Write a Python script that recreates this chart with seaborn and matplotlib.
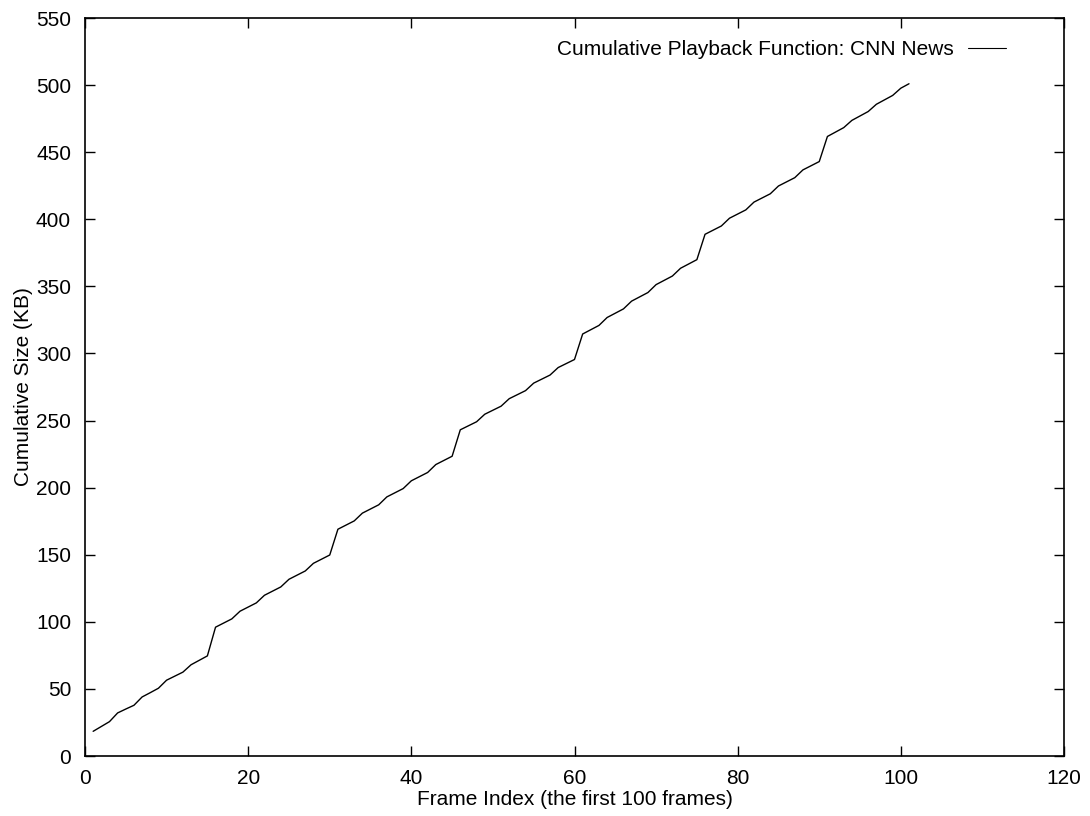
import matplotlib
matplotlib.use("Agg")
import matplotlib.pyplot as plt
import seaborn as sns
import pandas as pd

frames = list(range(1, 102))
cumulative_kb = [
    18.4, 22.0, 25.6, 32.1, 35.0, 37.8, 44.0, 47.2, 50.5, 56.5,
    59.5, 62.5, 68.0, 71.3, 74.6, 96.0, 99.1, 102.2, 107.9, 111.0,
    114.1, 119.8, 122.9, 126.0, 131.7, 134.8, 137.9, 143.6, 146.7, 149.8,
    169.0, 172.1, 175.2, 181.0, 184.1, 187.2, 193.1, 196.2, 199.3, 205.1,
    208.2, 211.3, 217.2, 220.3, 223.4, 243.1, 246.1, 249.1, 254.7, 257.7,
    260.7, 266.3, 269.3, 272.3, 277.9, 280.9, 283.9, 289.5, 292.5, 295.5,
    314.5, 317.7, 320.9, 326.8, 330.0, 333.2, 339.0, 342.2, 345.4, 351.3,
    354.5, 357.7, 363.5, 366.7, 369.9, 388.8, 391.9, 395.0, 400.8, 403.9,
    407.0, 412.8, 415.9, 419.0, 424.8, 427.9, 431.0, 436.8, 439.9, 443.0,
    461.7, 465.0, 468.3, 473.7, 477.0, 480.3, 485.7, 489.0, 492.3, 497.7,
    501.0,
]
series_label = "Cumulative Playback Function: CNN News"
x_ticks = [0, 20, 40, 60, 80, 100, 120]
y_ticks = [0, 50, 100, 150, 200, 250, 300, 350, 400, 450, 500, 550]

sns.set_style("ticks")
plt.rcParams["font.family"] = ["Liberation Sans", "DejaVu Sans"]
plt.rcParams["text.color"] = "black"
plt.rcParams["axes.labelcolor"] = "black"

df = pd.DataFrame({"frame": frames, "size": cumulative_kb})

fig = plt.figure(figsize=(10.9, 8.16), dpi=100)
ax = fig.add_axes([85 / 1090, 1 - 756 / 816, (1064 - 85) / 1090, (756 - 18) / 816])

sns.lineplot(data=df, x="frame", y="size", ax=ax, color="black", linewidth=1.0,
             label=series_label)

ax.set_xlim(0, 120)
ax.set_ylim(0, 550)
ax.set_xticks(x_ticks)
ax.set_yticks(y_ticks)
ax.tick_params(direction="in", length=7, width=1.0, top=True, right=True,
               labelsize=15, colors="black")
ax.tick_params(axis="x", pad=9)
ax.tick_params(axis="y", pad=10)
for s in ax.spines.values():
    s.set_linewidth(1.2)
    s.set_color("black")

ax.set_xlabel("Frame Index (the first 100 frames)", fontsize=15, labelpad=2, color="black")
ax.set_ylabel("Cumulative Size (KB)", fontsize=15, labelpad=2, color="black")

leg = ax.legend(loc="upper right", bbox_to_anchor=(0.949, 0.981), borderaxespad=0,
                frameon=False, fontsize=15, markerfirst=False,
                handlelength=1.8, handletextpad=0.7, labelcolor="black")
for line in leg.get_lines():
    line.set_linewidth(0.8)

fig.savefig("out.png", dpi=100)
